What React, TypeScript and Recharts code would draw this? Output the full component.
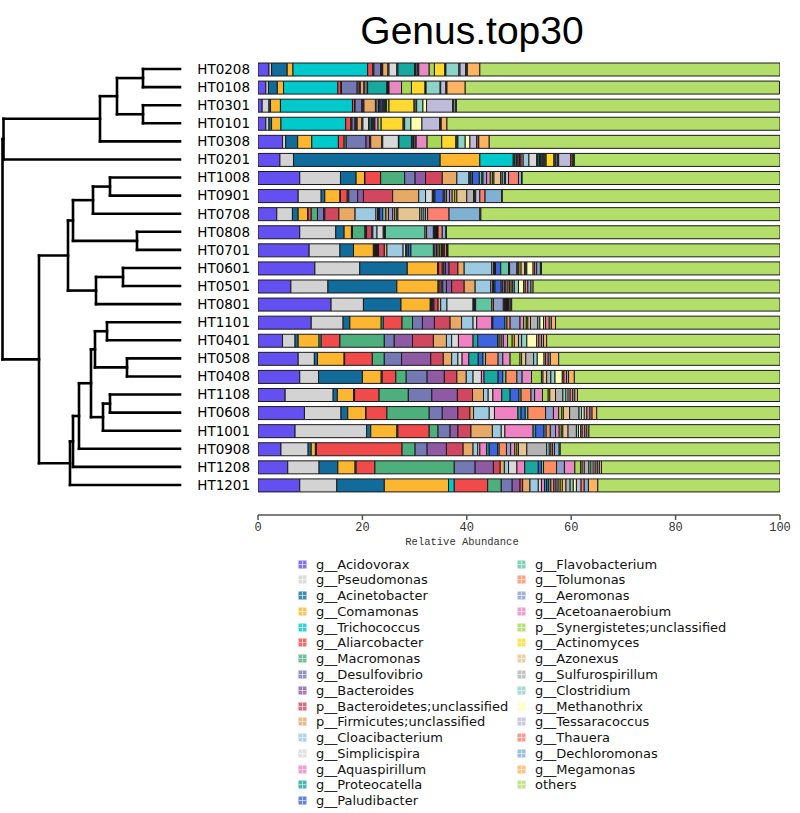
import React from 'react';
import { BarChart, Bar, XAxis, YAxis } from 'recharts';

const samples = [
  'HT0208', 'HT0108', 'HT0301', 'HT0101', 'HT0308', 'HT0201',
  'HT1008', 'HT0901', 'HT0708', 'HT0808', 'HT0701', 'HT0601',
  'HT0501', 'HT0801', 'HT1101', 'HT0401', 'HT0508', 'HT0408',
  'HT1108', 'HT0608', 'HT1001', 'HT0908', 'HT1208', 'HT1201'
];

const genera = [
  'g__Acidovorax', 'g__Pseudomonas', 'g__Acinetobacter', 'g__Comamonas', 'g__Trichococcus',
  'g__Aliarcobacter', 'g__Macromonas', 'g__Desulfovibrio', 'g__Bacteroides',
  'p__Bacteroidetes;unclassified', 'p__Firmicutes;unclassified', 'g__Cloacibacterium',
  'g__Simplicispira', 'g__Aquaspirillum', 'g__Proteocatella', 'g__Paludibacter',
  'g__Flavobacterium', 'g__Tolumonas', 'g__Aeromonas', 'g__Acetoanaerobium',
  'p__Synergistetes;unclassified', 'g__Actinomyces', 'g__Azonexus', 'g__Sulfurospirillum',
  'g__Clostridium', 'g__Methanothrix', 'g__Tessaracoccus', 'g__Thauera',
  'g__Dechloromonas', 'g__Megamonas', 'others'
];

const colors = [
  '#6450f0', '#d3d3d3', '#116b9b', '#fcb62f', '#00c9cc', '#f04a4a', '#4daf7c', '#7579b3',
  '#8d5aa3', '#d1475f', '#e8a866', '#9ecae1', '#d9d9d9', '#f081c3', '#18a89e', '#3d63dd',
  '#62c5a2', '#fc8d62', '#8da0cb', '#e78ac3', '#a6d854', '#ffd92f', '#e5c494', '#b3b3b3',
  '#8dd3c7', '#ffffb3', '#bebada', '#fb8072', '#80b1d3', '#fdb462', '#b3de69'
];

// relative abundance (%) per sample, same order as genera
const abundance = [
  [2.1, 0.5, 3.0, 1.1, 14.3, 1.0, 0.2, 1.3, 0.2, 0.2, 1.0, 0.2, 1.5, 0.2, 3.2, 0.2, 0.3, 0.2, 0.1, 2.0, 1.0, 2.0, 0.1, 0.1, 2.5, 0.2, 1.1, 0.1, 0.2, 2.4, 57.5],
  [1.5, 0.5, 1.7, 1.2, 10.4, 0.6, 0.1, 3.0, 0.4, 0.2, 0.7, 0.2, 0.4, 0.1, 3.7, 0.1, 0.1, 0.1, 0.1, 2.4, 1.9, 2.6, 0.1, 0.1, 2.7, 0.1, 1.0, 0.1, 0.1, 3.5, 60.2],
  [0.8, 1.3, 0.3, 1.9, 13.8, 0.4, 0.1, 1.3, 0.2, 0.2, 2.2, 0.3, 0.3, 0.1, 0.2, 0.4, 0.2, 0.2, 0.2, 0.2, 0.5, 4.8, 0.2, 0.3, 1.2, 0.7, 5.0, 0.2, 0.4, 0.1, 62.0],
  [1.5, 0.6, 0.5, 1.8, 12.4, 1.0, 0.2, 0.6, 0.2, 0.2, 0.9, 0.2, 1.1, 0.1, 0.4, 0.2, 0.2, 0.1, 0.2, 0.6, 0.6, 4.2, 0.2, 0.1, 1.2, 2.1, 3.4, 0.2, 0.1, 1.1, 63.8],
  [4.7, 0.6, 2.3, 2.7, 5.1, 1.1, 0.4, 3.8, 0.7, 0.2, 2.1, 0.2, 3.0, 0.1, 2.4, 0.3, 0.1, 0.3, 0.2, 2.1, 2.8, 2.7, 0.2, 0.2, 1.4, 0.9, 1.3, 0.3, 0.1, 2.0, 55.7],
  [4.2, 2.6, 28.1, 7.6, 6.4, 0.3, 0.3, 0.3, 0.3, 0.3, 0.4, 1.1, 1.5, 0.2, 0.3, 0.2, 0.3, 0.2, 0.2, 0.2, 0.2, 1.5, 0.2, 0.2, 0.3, 0.2, 2.3, 0.3, 0.2, 0.2, 39.4],
  [8.0, 7.8, 3.0, 1.6, 0.1, 3.0, 4.6, 2.0, 2.0, 3.2, 2.8, 2.3, 0.2, 0.2, 0.3, 1.3, 0.5, 0.2, 0.7, 0.7, 0.4, 0.3, 1.3, 0.3, 0.4, 0.2, 0.6, 1.9, 0.6, 0.1, 49.4],
  [7.7, 4.4, 0.7, 2.9, 0.1, 1.3, 0.3, 1.7, 1.1, 5.6, 5.0, 1.3, 1.3, 0.2, 0.3, 1.6, 0.3, 0.3, 0.6, 0.5, 0.5, 0.4, 1.9, 1.3, 0.2, 0.2, 0.8, 1.0, 3.2, 0.1, 53.2],
  [3.6, 3.0, 1.1, 1.8, 0.1, 0.6, 1.2, 1.2, 0.2, 2.7, 3.1, 4.0, 0.3, 0.2, 0.2, 0.6, 0.6, 0.5, 0.8, 0.4, 0.4, 0.2, 4.2, 0.4, 0.4, 0.3, 0.4, 4.1, 5.9, 0.2, 57.3],
  [8.0, 6.9, 1.6, 1.4, 0.1, 0.1, 2.4, 0.2, 0.1, 1.0, 0.2, 0.8, 1.2, 0.2, 0.1, 0.1, 7.6, 0.3, 1.3, 0.2, 0.1, 0.1, 0.1, 0.1, 0.1, 0.1, 0.1, 0.8, 0.7, 0.1, 63.9],
  [9.8, 5.9, 2.6, 3.8, 0.2, 0.2, 0.2, 0.2, 0.2, 1.1, 0.5, 3.1, 0.5, 0.2, 0.3, 0.5, 4.3, 0.3, 0.3, 0.3, 0.3, 0.3, 0.1, 0.1, 0.1, 0.1, 0.2, 0.4, 0.2, 0.1, 63.6],
  [10.9, 8.6, 9.1, 5.8, 0.2, 0.7, 0.3, 0.3, 0.7, 1.7, 1.2, 5.3, 0.3, 0.2, 0.2, 1.0, 1.5, 0.2, 1.4, 0.2, 0.2, 0.4, 0.7, 0.2, 0.2, 1.2, 0.3, 0.4, 0.7, 0.2, 45.7],
  [6.3, 7.1, 13.2, 7.9, 0.2, 0.4, 0.3, 0.7, 1.0, 2.4, 2.1, 3.0, 0.3, 0.2, 0.3, 1.2, 0.3, 0.3, 0.3, 0.4, 0.3, 0.3, 0.3, 0.3, 0.8, 1.0, 0.3, 0.5, 0.6, 0.4, 47.3],
  [14.0, 6.2, 7.2, 5.6, 0.1, 0.1, 0.1, 0.2, 0.2, 0.8, 0.5, 1.2, 5.0, 0.1, 0.2, 0.2, 3.1, 0.3, 1.9, 0.2, 0.1, 0.1, 0.1, 0.1, 0.2, 0.1, 0.1, 0.3, 0.2, 0.1, 51.4],
  [10.2, 6.1, 1.3, 6.0, 0.4, 3.6, 2.0, 1.9, 2.3, 3.0, 2.2, 2.2, 0.7, 2.9, 0.2, 2.3, 0.4, 0.6, 1.9, 0.7, 0.5, 0.3, 0.5, 1.4, 0.4, 0.7, 0.4, 0.7, 0.4, 0.8, 43.0],
  [4.7, 2.4, 0.6, 4.0, 0.4, 3.6, 8.5, 1.9, 3.5, 4.0, 2.5, 1.0, 1.3, 2.8, 0.9, 3.8, 0.3, 0.4, 0.4, 0.8, 0.9, 0.4, 0.8, 0.6, 1.0, 1.9, 0.4, 0.5, 0.4, 0.6, 44.7],
  [7.7, 3.1, 0.6, 5.1, 0.1, 5.3, 2.3, 3.3, 5.6, 2.4, 1.6, 1.2, 0.8, 1.3, 1.8, 0.9, 0.5, 2.4, 0.9, 1.4, 1.9, 0.3, 0.8, 1.5, 0.7, 1.3, 0.3, 0.5, 0.4, 1.6, 42.4],
  [8.0, 3.6, 8.4, 3.6, 0.2, 2.6, 2.0, 4.0, 3.3, 2.4, 1.8, 1.3, 1.6, 0.5, 2.7, 0.9, 0.6, 2.1, 1.0, 1.8, 1.9, 0.3, 0.7, 0.8, 0.8, 1.4, 0.3, 0.5, 0.4, 1.1, 39.4],
  [5.2, 9.2, 0.8, 3.1, 0.2, 4.7, 5.6, 4.5, 4.9, 2.9, 2.1, 0.9, 0.9, 1.7, 1.6, 1.7, 0.4, 1.9, 0.7, 1.5, 1.1, 0.3, 1.1, 1.4, 0.6, 0.4, 0.4, 0.5, 0.4, 0.5, 38.8],
  [8.9, 7.0, 1.3, 3.4, 0.1, 4.0, 8.1, 2.5, 3.0, 2.3, 0.7, 3.0, 1.0, 4.5, 0.6, 0.8, 0.5, 3.4, 1.5, 1.0, 0.6, 0.3, 1.2, 1.8, 0.5, 0.5, 0.5, 0.6, 0.4, 0.9, 35.1],
  [7.1, 13.7, 0.8, 5.0, 0.2, 6.0, 1.7, 2.3, 1.5, 2.5, 4.1, 1.7, 0.7, 5.4, 0.5, 1.6, 0.4, 0.8, 1.0, 0.7, 0.4, 0.3, 1.0, 1.6, 0.4, 0.4, 0.3, 0.5, 0.4, 0.4, 36.6],
  [4.4, 5.2, 0.6, 0.8, 0.2, 16.4, 2.5, 2.3, 3.7, 3.2, 1.9, 0.9, 0.4, 1.3, 0.5, 1.6, 0.3, 1.4, 0.8, 0.8, 0.4, 0.3, 1.6, 3.8, 0.5, 0.3, 0.3, 0.4, 0.9, 0.2, 42.1],
  [5.7, 6.0, 3.6, 3.3, 0.2, 3.6, 15.2, 4.0, 3.5, 1.3, 0.8, 0.8, 1.6, 1.5, 2.6, 0.6, 0.4, 2.5, 1.5, 2.0, 1.1, 0.3, 0.4, 0.9, 0.4, 0.4, 0.4, 0.4, 0.4, 0.4, 34.2],
  [8.0, 7.1, 9.1, 12.3, 1.1, 6.4, 2.6, 2.1, 1.5, 0.5, 1.4, 1.6, 0.6, 0.6, 0.4, 0.4, 0.4, 0.6, 0.4, 0.4, 0.4, 0.4, 0.7, 0.8, 0.6, 0.6, 0.9, 0.6, 0.8, 1.8, 34.9]
];

const xTicks = [0, 20, 40, 60, 80, 100];

// hierarchical clustering of samples, h = merge height
type TreeNode = string | { h: number; c: TreeNode[] };
const tree: TreeNode = {
  h: 177.5, c: [
    { h: 176.5, c: [
      { h: 80, c: [
        { h: 63, c: [{ h: 37, c: ['HT0208', 'HT0108'] }, { h: 37, c: ['HT0301', 'HT0101'] }] },
        'HT0308'
      ] },
      'HT0201'
    ] },
    { h: 141, c: [
      { h: 112, c: [
        { h: 107, c: [
          { h: 87, c: [{ h: 70, c: ['HT1008', 'HT0901'] }, 'HT0708'] },
          { h: 43, c: ['HT0808', 'HT0701'] }
        ] },
        { h: 84, c: [{ h: 57, c: ['HT0601', 'HT0501'] }, 'HT0801'] }
      ] },
      { h: 110, c: [
        { h: 107, c: [
          { h: 101, c: [
            { h: 89, c: [
              { h: 85, c: [{ h: 73, c: ['HT1101', 'HT0401'] }, { h: 53, c: ['HT0508', 'HT0408'] }] },
              { h: 77, c: [{ h: 70, c: ['HT1108', 'HT0608'] }, 'HT1001'] }
            ] },
            'HT0908'
          ] },
          'HT1208'
        ] },
        'HT1201'
      ] }
    ] }
  ]
};

const tableData = samples.map((sample, i) => {
  const row: Record<string, string | number> = { sample };
  genera.forEach((_, j) => {
    row[`s${j}`] = abundance[i][j];
  });
  return row;
});

const TREE_RIGHT = 180;
const leafY: Record<string, number> = {};

const drawTree = (node: TreeNode, segs: React.ReactNode[]): { y: number; h: number } => {
  if (typeof node === 'string') return { y: leafY[node], h: 0 };
  const kids = node.c.map(k => drawTree(k, segs));
  const x = TREE_RIGHT - node.h;
  const ys = kids.map(k => k.y);
  const top = Math.min(...ys);
  const bottom = Math.max(...ys);
  segs.push(<line key={`v${segs.length}`} x1={x} x2={x} y1={top} y2={bottom} />);
  kids.forEach(k => {
    segs.push(<line key={`h${segs.length}`} x1={x} x2={TREE_RIGHT - k.h} y1={k.y} y2={k.y} />);
  });
  return { y: (top + bottom) / 2, h: node.h };
};

const SampleTick = (props: any) => {
  const { x, y, payload, index } = props;
  leafY[payload.value] = y;
  let dendro = null;
  if (index === samples.length - 1) {
    const segs: React.ReactNode[] = [];
    drawTree(tree, segs);
    dendro = <g stroke="#000" strokeWidth={2.6} strokeLinecap="square">{segs}</g>;
  }
  return <g>
      <text x={x} y={y} dy="0.36em" textAnchor="end" fontFamily="DejaVu Sans" fontSize={13.5} fill="#000">
        {payload.value}
      </text>
      {dendro}
    </g>;
};

const AxisTitle = (props: any) => {
  const { viewBox } = props;
  return <text x={viewBox.x + viewBox.width / 2 - 57} y={viewBox.y + 30} textAnchor="middle" fontFamily="Liberation Mono" fontSize={10.5} fill="#333">
      Relative Abundance
    </text>;
};

const LegendIcon = ({ color }: { color: string }) => <svg width={9} height={9} style={{ display: 'block' }}>
    <rect x={0.5} y={0.5} width={8} height={8} fill={color} opacity={0.8} />
    <line x1={4.5} x2={4.5} y1={1} y2={8} stroke="#fff" strokeOpacity={0.6} />
    <line x1={1} x2={8} y1={4.5} y2={4.5} stroke="#fff" strokeOpacity={0.6} />
  </svg>;

export default function App() {
  return <div style={{ position: 'absolute', left: 0, top: 0, width: 800, height: 813, fontFamily: 'DejaVu Sans' }}>
      <div style={{
      position: 'absolute',
      left: 472,
      top: 7,
      transform: 'translateX(-50%)',
      fontFamily: 'Liberation Sans',
      fontSize: 39,
      lineHeight: '48px',
      whiteSpace: 'nowrap',
      color: '#000'
    }}>
        Genus.top30
      </div>
      <BarChart width={800} height={565} data={tableData} layout="vertical" barSize={13} margin={{
      top: 60,
      right: 20,
      bottom: 0,
      left: 188
    }}>
        <XAxis type="number" domain={[0, 100]} ticks={xTicks} allowDataOverflow height={50} tickSize={5} axisLine={{
        stroke: '#555',
        strokeWidth: 1.5
      }} tickLine={{
        stroke: '#555',
        strokeWidth: 1.5
      }} tick={{
        fontFamily: 'Liberation Mono',
        fontSize: 12,
        fill: '#333'
      }} label={<AxisTitle />} />
        <YAxis type="category" dataKey="sample" width={70} interval={0} tickLine={false} axisLine={false} tick={SampleTick} padding={{
        top: 0,
        bottom: 21
      }} />
        {genera.map((g, j) => <Bar key={g} dataKey={`s${j}`} name={g} stackId="a" fill={colors[j]} stroke="#1a1a1a" strokeWidth={1} isAnimationActive={false} />)}
      </BarChart>
      {genera.map((g, j) => {
      const col = j < 16 ? 0 : 1;
      const row = col === 0 ? j : j - 16;
      return <div key={g} style={{
        position: 'absolute',
        left: col === 0 ? 298 : 517,
        top: 556 + row * 15.78,
        height: 16,
        display: 'flex',
        alignItems: 'center',
        fontSize: 13,
        color: '#111',
        whiteSpace: 'nowrap'
      }}>
            <LegendIcon color={colors[j]} />
            <span style={{ marginLeft: 9 }}>{g}</span>
          </div>;
    })}
    </div>;
}
